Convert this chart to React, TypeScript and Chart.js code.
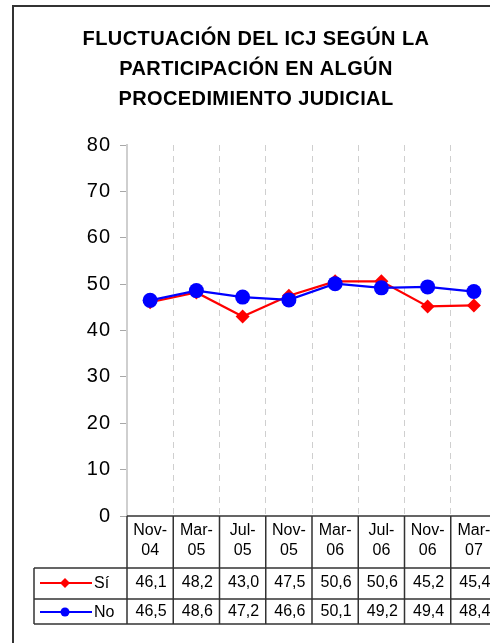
import { useEffect, useRef } from "react";
import { Chart, registerables } from "chart.js";

Chart.register(...registerables);

const TITLE_LINES = [
  "FLUCTUACIÓN DEL ICJ SEGÚN LA",
  "PARTICIPACIÓN EN ALGÚN",
  "PROCEDIMIENTO JUDICIAL",
];
const CATEGORY_TOP = ["Nov-", "Mar-", "Jul-", "Nov-", "Mar-", "Jul-", "Nov-", "Mar-"];
const CATEGORY_BOTTOM = ["04", "05", "05", "05", "06", "06", "06", "07"];
const SERIES_NAMES = ["Sí", "No"];
const SI_VALUES = [46.1, 48.2, 43.0, 47.5, 50.6, 50.6, 45.2, 45.4];
const NO_VALUES = [46.5, 48.6, 47.2, 46.6, 50.1, 49.2, 49.4, 48.4];
const Y_MIN = 0;
const Y_MAX = 80;
const Y_STEP = 10;

const FONT = '"Liberation Sans", Arial, sans-serif';
const fmt = (v: number) => v.toFixed(1).replace(".", ",");

const CANVAS_W = 520;
const CANVAS_H = 643;

const tablePlugin = {
  id: "tablePlugin",
  beforeDraw(chart: any) {
    const ctx = chart.ctx as any;
    ctx.letterSpacing = "1px";
  },
  afterDraw(chart: any) {
    const ctx = chart.ctx as any;
    const xs = chart.scales.x;
    const area = chart.chartArea;
    const n = CATEGORY_TOP.length;
    const w = (area.right - area.left) / n;
    ctx.save();

    // Title
    ctx.letterSpacing = "0.4px";
    ctx.fillStyle = "#000";
    ctx.font = `bold 20px ${FONT}`;
    ctx.textAlign = "center";
    ctx.textBaseline = "middle";
    const titleY = [39, 69, 99];
    TITLE_LINES.forEach((t, i) => ctx.fillText(t, 256, titleY[i]));

    // Table geometry
    const top = area.bottom;
    const rowHeaderBottom = 568;
    const row1Bottom = 599;
    const row2Bottom = 624;
    const keyLeft = 34;
    const right = area.right;

    ctx.strokeStyle = "#333";
    ctx.lineWidth = 1.5;
    ctx.beginPath();
    ctx.moveTo(area.left, top);
    ctx.lineTo(right + 20, top);
    [rowHeaderBottom, row1Bottom, row2Bottom].forEach((y) => {
      ctx.moveTo(keyLeft, y);
      ctx.lineTo(right + 20, y);
    });
    ctx.moveTo(keyLeft, rowHeaderBottom);
    ctx.lineTo(keyLeft, row2Bottom);
    for (let i = 0; i <= n; i++) {
      const x = i < n ? xs.getPixelForValue(i) - w / 2 : xs.getPixelForValue(n - 1) + w / 2;
      ctx.moveTo(x, top);
      ctx.lineTo(x, row2Bottom);
    }
    ctx.stroke();

    // Header labels
    ctx.font = `16px ${FONT}`;
    ctx.letterSpacing = "0px";
    ctx.fillStyle = "#000";
    for (let i = 0; i < n; i++) {
      const cx = xs.getPixelForValue(i);
      ctx.fillText(CATEGORY_TOP[i], cx, 531);
      ctx.fillText(CATEGORY_BOTTOM[i], cx, 551);
    }

    // Values and keys
    const rowsY = [583, 612];
    chart.data.datasets.forEach((ds: any, di: number) => {
      const y = rowsY[di];
      ctx.font = `16px ${FONT}`;
      ctx.letterSpacing = "0px";
      ctx.textAlign = "center";
      ctx.fillStyle = "#000";
      ds.data.forEach((v: number, i: number) => {
        ctx.fillText(fmt(v), xs.getPixelForValue(i) + 1, y);
      });
      // key
      ctx.strokeStyle = ds.borderColor;
      ctx.fillStyle = ds.backgroundColor;
      ctx.lineWidth = 2;
      ctx.beginPath();
      ctx.moveTo(40, y);
      ctx.lineTo(92, y);
      ctx.stroke();
      ctx.beginPath();
      if (ds.pointStyle === "rectRot") {
        const r = 5;
        ctx.moveTo(65, y - r);
        ctx.lineTo(65 + r, y);
        ctx.lineTo(65, y + r);
        ctx.lineTo(65 - r, y);
        ctx.closePath();
      } else {
        ctx.arc(65, y, 4.5, 0, Math.PI * 2);
      }
      ctx.fill();
      ctx.fillStyle = "#000";
      ctx.textAlign = "left";
      ctx.fillText(ds.label, 94, y + 1);
    });

    // Outer frame
    ctx.strokeStyle = "#333";
    ctx.lineWidth = 2;
    ctx.beginPath();
    ctx.moveTo(13, CANVAS_H + 5);
    ctx.lineTo(13, 6);
    ctx.lineTo(CANVAS_W + 5, 6);
    ctx.stroke();

    ctx.restore();
  },
};

export default function App() {
  const ref = useRef<HTMLCanvasElement | null>(null);
  useEffect(() => {
    if (!ref.current) return;
    const chart = new Chart(ref.current, {
      type: "line",
      data: {
        labels: CATEGORY_TOP.map((t, i) => t + CATEGORY_BOTTOM[i]),
        datasets: [
          {
            label: SERIES_NAMES[0],
            data: SI_VALUES,
            borderColor: "#ff0000",
            backgroundColor: "#ff0000",
            borderWidth: 2.2,
            pointStyle: "rectRot",
            pointRadius: 7,
            pointBorderWidth: 0,
            order: 1,
          },
          {
            label: SERIES_NAMES[1],
            data: NO_VALUES,
            borderColor: "#0000ff",
            backgroundColor: "#0000ff",
            borderWidth: 2.2,
            pointStyle: "circle",
            pointRadius: 7.5,
            pointBorderWidth: 0,
            order: 0,
          },
        ],
      },
      options: {
        responsive: false,
        animation: false,
        devicePixelRatio: 1,
        layout: { padding: { top: 145, right: 23, left: 0, bottom: 0 } },
        plugins: {
          legend: { display: false },
          title: { display: false },
          tooltip: { enabled: false },
        },
        scales: {
          x: {
            offset: true,
            ticks: { display: false },
            grid: {
              offset: true,
              drawTicks: false,
              lineWidth: 1,
              color: (c: any) => (c.index === 0 ? "rgba(0,0,0,0)" : "#cfcfcf"),
            },
            border: { display: false, dash: [6, 5] },
            afterFit: (s: any) => {
              s.height = 127;
            },
          },
          y: {
            min: Y_MIN,
            max: Y_MAX,
            ticks: {
              stepSize: Y_STEP,
              color: "#000",
              font: { family: FONT, size: 20 },
              padding: 9,
            },
            grid: {
              drawOnChartArea: false,
              drawTicks: true,
              tickLength: 7,
              color: "#a8a8a8",
            },
            border: { display: true, color: "#cfcfcf", width: 2 },
            afterFit: (s: any) => {
              s.width = 127;
            },
          },
        },
      },
      plugins: [tablePlugin],
    } as any);
    return () => chart.destroy();
  }, []);
  return (
    <div
      style={{
        position: "fixed",
        left: 0,
        top: 0,
        width: 490,
        height: 643,
        overflow: "hidden",
        background: "#fff",
      }}
    >
      <canvas
        ref={ref}
        width={CANVAS_W}
        height={CANVAS_H}
        style={{ width: CANVAS_W, height: CANVAS_H, display: "block" }}
      />
    </div>
  );
}
